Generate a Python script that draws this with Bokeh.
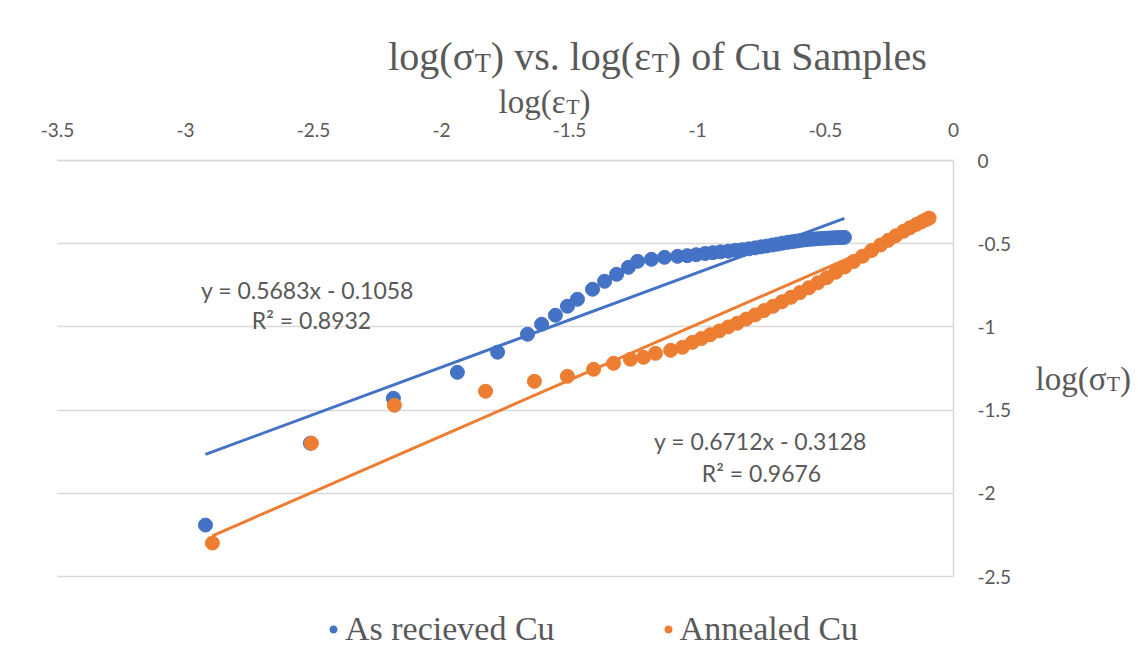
from bokeh.plotting import figure
from bokeh.models import Range1d, FixedTicker, Label, Legend, LegendItem, Grid
from bokeh.embed import file_html
from bokeh.resources import INLINE

# ---------------- data ----------------
as_received_x = [-2.922, -2.512, -2.188, -1.938, -1.781, -1.664, -1.609, -1.555, -1.508, -1.469,
                 -1.410, -1.363, -1.316, -1.270, -1.234, -1.180, -1.129, -1.078, -1.040, -1.005,
                 -0.970, -0.940, -0.910, -0.880, -0.852, -0.825, -0.800, -0.775, -0.752, -0.730,
                 -0.708, -0.688, -0.668, -0.648, -0.630, -0.612, -0.595, -0.578, -0.562, -0.546,
                 -0.531, -0.516, -0.502, -0.488, -0.474, -0.461, -0.449, -0.437, -0.426]
as_received_y = [-2.191, -1.699, -1.429, -1.273, -1.152, -1.044, -0.984, -0.930, -0.876, -0.834,
                 -0.774, -0.726, -0.684, -0.642, -0.606, -0.594, -0.582, -0.576, -0.572, -0.566,
                 -0.559, -0.554, -0.549, -0.545, -0.540, -0.536, -0.531, -0.525, -0.519, -0.514,
                 -0.508, -0.503, -0.497, -0.492, -0.488, -0.484, -0.480, -0.477, -0.474, -0.472,
                 -0.470, -0.468, -0.467, -0.466, -0.465, -0.464, -0.463, -0.463, -0.462]

annealed_x = [-2.895, -2.508, -2.184, -1.828, -1.637, -1.508, -1.406, -1.328, -1.262, -1.211,
              -1.164, -1.105, -1.059, -1.020, -0.985, -0.950, -0.915, -0.880, -0.845, -0.810,
              -0.775, -0.740, -0.705, -0.670, -0.635, -0.600, -0.565, -0.530, -0.495, -0.460,
              -0.425, -0.390, -0.355, -0.320, -0.285, -0.255, -0.225, -0.195, -0.170, -0.145,
              -0.125, -0.108, -0.095]
annealed_y = [-2.299, -1.699, -1.471, -1.387, -1.327, -1.297, -1.255, -1.219, -1.195, -1.183,
              -1.159, -1.141, -1.123, -1.093, -1.070, -1.047, -1.024, -1.000, -0.978, -0.953,
              -0.928, -0.902, -0.876, -0.849, -0.822, -0.794, -0.765, -0.735, -0.704, -0.672,
              -0.640, -0.607, -0.575, -0.541, -0.508, -0.480, -0.452, -0.425, -0.404, -0.384,
              -0.369, -0.356, -0.346]

# trendlines as printed on the chart
as_received_fit = (0.5683, -0.1058)
annealed_fit = (0.6712, -0.3128)
as_received_eq = ["y = 0.5683x - 0.1058", "R² = 0.8932"]
annealed_eq = ["y = 0.6712x - 0.3128", "R² = 0.9676"]

series_names = ["As recieved Cu", "Annealed Cu"]

x_ticks = [-3.5, -3.0, -2.5, -2.0, -1.5, -1.0, -0.5, 0.0]
x_tick_labels = ["-3.5", "-3", "-2.5", "-2", "-1.5", "-1", "-0.5", "0"]
y_ticks = [-2.5, -2.0, -1.5, -1.0, -0.5, 0.0]
y_tick_labels = ["-2.5", "-2", "-1.5", "-1", "-0.5", "0"]

# ---------------- style ----------------
BLUE = "#4472C4"
ORANGE = "#ED7D31"
GRID = "#D9D9D9"
TXT = "#595959"
SERIF = "Liberation Serif"
SANS = "Lato"

W, H = 1138, 669
FL, FR, FT, FB = 57, 953, 160, 576  # plot-area edges in px
X0, X1, Y0, Y1 = -3.5, 0.0, -2.5, 0.0
SX = (X1 - X0) / (FR - FL)
SY = (Y1 - Y0) / (FB - FT)

# the frame covers the whole canvas; the data area is the region X0..X1, Y0..Y1
p = figure(width=W, height=H, output_backend="svg", toolbar_location=None,
           x_range=Range1d(X0 - FL * SX, X1 + (W - FR) * SX),
           y_range=Range1d(Y0 - (H - FB) * SY, Y1 + FT * SY),
           x_axis_location="above", y_axis_location="right",
           min_border_left=0, min_border_right=0, min_border_top=0, min_border_bottom=0)
p.outline_line_color = None
p.background_fill_color = "white"
p.border_fill_color = "white"

# axes (crossing at 0, as in the reference)
xa = p.xaxis[0]
xa.fixed_location = 0
xa.bounds = (X0, X1)
xa.ticker = FixedTicker(ticks=x_ticks)
xa.major_label_overrides = {t: l for t, l in zip(x_ticks, x_tick_labels)}
ya = p.yaxis[0]
ya.fixed_location = 0
ya.bounds = (Y0, Y1)
ya.ticker = FixedTicker(ticks=y_ticks)
ya.major_label_overrides = {t: l for t, l in zip(y_ticks, y_tick_labels)}
for ax in (xa, ya):
    ax.axis_line_color = GRID
    ax.axis_line_width = 1.5
    ax.major_tick_line_color = None
    ax.minor_tick_line_color = None
    ax.major_tick_out = 0
    ax.major_tick_in = 0
    ax.major_label_text_font = SANS
    ax.major_label_text_font_size = "19px"
    ax.major_label_text_color = TXT
xa.major_label_standoff = 24
ya.major_label_standoff = 24

p.xgrid.visible = False
if "cross_bounds" in Grid.properties():
    p.ygrid.ticker = FixedTicker(ticks=y_ticks)
    p.ygrid.cross_bounds = (X0, X1)
    p.ygrid.grid_line_color = GRID
    p.ygrid.grid_line_width = 1.5
else:
    p.ygrid.visible = False
    p.segment(x0=[X0] * len(y_ticks), x1=[X1] * len(y_ticks), y0=y_ticks, y1=y_ticks,
              line_color=GRID, line_width=1.5)

# points
r_blue = p.scatter(as_received_x, as_received_y, size=14, color=BLUE)
r_orange = p.scatter(annealed_x, annealed_y, size=14, color=ORANGE)

# trendlines
for xs, fit, col in ((as_received_x, as_received_fit, BLUE), (annealed_x, annealed_fit, ORANGE)):
    xa0, xa1 = min(xs), max(xs)
    m, b = fit
    p.line([xa0, xa1], [m * xa0 + b, m * xa1 + b], line_color=col, line_width=3)

# ---------------- text helpers ----------------
def dx(px):
    return X0 + (px - FL) * SX

def dy(py):
    return Y1 - (py - FT) * SY

TIMES_W = {'l': .278, 'o': .5, 'g': .5, '(': .333, ')': .333, ' ': .25, 'v': .5, 's': .389,
           '.': .25, 'f': .333, 'C': .667, 'u': .5, 'S': .556, 'a': .444, 'm': .778, 'p': .5,
           'e': .444, 'σ': .55, 'ε': .44, 'T': .611}

def text_width(s, size):
    return sum(TIMES_W.get(c, .5) for c in s) * size

def put(text, px, py, size, font=SERIF, align="left", baseline="alphabetic"):
    p.add_layout(Label(x=dx(px), y=dy(py), text=text, text_font=font,
                       text_font_size=f"{size}px", text_color=TXT,
                       text_align=align, text_baseline=baseline))

def put_rich(pieces, px, py, size):
    """pieces: list of (text, is_subscript); px is left start, py baseline."""
    x = px
    for t, sub in pieces:
        if sub:
            s = size * 0.66
            put(t, x, py + size * 0.17, s)
            x += text_width(t, s)
        else:
            put(t, x, py, size)
            x += text_width(t, size)

def rich_width(pieces, size):
    return sum(text_width(t, size * (0.66 if sub else 1)) for t, sub in pieces)

# title
title_pieces = [("log(σ", False), ("T", True), (") vs. log(ε", False), ("T", True), (") of Cu Samples", False)]
TS = 40
put_rich(title_pieces, 657 - rich_width(title_pieces, TS) / 2, 56, TS)

# axis titles
put_rich([("log(ε", False), ("T", True), (")", False)], 498, 101, 33)
put_rich([("log(σ", False), ("T", True), (")", False)], 1035, 378, 33)

# trendline equations
put(as_received_eq[0], 307, 289, 23, font=SANS, align="center", baseline="middle")
put(as_received_eq[1], 311, 319, 23, font=SANS, align="center", baseline="middle")
put(annealed_eq[0], 760, 440, 23, font=SANS, align="center", baseline="middle")
put(annealed_eq[1], 761, 472, 23, font=SANS, align="center", baseline="middle")

# legend
legend = Legend(items=[LegendItem(label=series_names[0], renderers=[r_blue]),
                       LegendItem(label=series_names[1], renderers=[r_orange])],
                orientation="horizontal", location=(324, 21),
                label_text_font=SERIF, label_text_font_size="34px", label_text_color=TXT,
                glyph_width=18, glyph_height=18, label_standoff=3, spacing=104,
                padding=0, margin=0, border_line_color=None, background_fill_alpha=0)
p.add_layout(legend)

open("out.html", "w").write(file_html(p, INLINE))
